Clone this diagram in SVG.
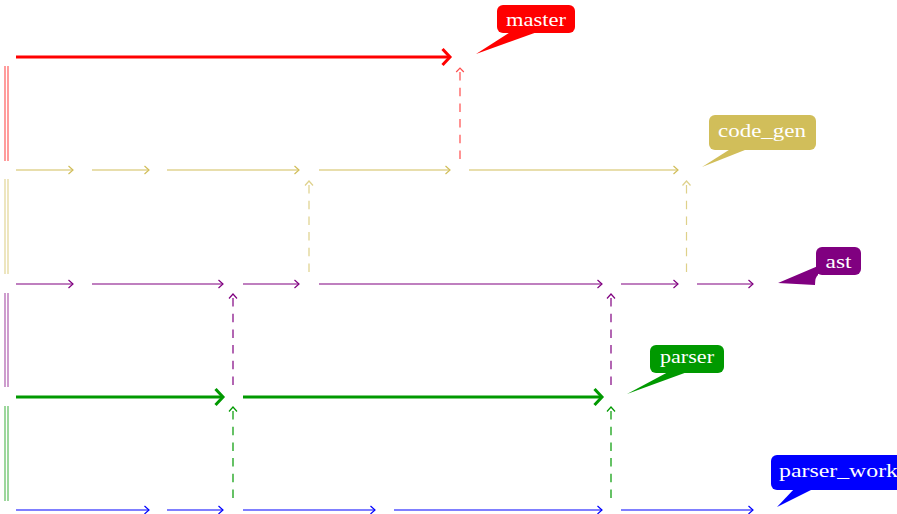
<svg xmlns="http://www.w3.org/2000/svg" width="897" height="514" viewBox="0 0 897 514">
  <style>
    .thin { fill: none; stroke-width: 1.2; }
    .thick { fill: none; stroke-width: 3; }
    .merge { fill: none; stroke-width: 1.2; stroke-dasharray: 8.5 7.2; stroke-dashoffset: 11.7; }
    .soft { opacity: 0.7; }
    .rail { fill: none; stroke-width: 1.1; opacity: 0.7; }
    .label { font-family: "Liberation Serif", "Times New Roman", serif; font-size: 19px; fill: #ffffff; }
    .red { stroke: #ff0000; }
    .yel { stroke: #d1be5a; }
    .pur { stroke: #800080; }
    .grn { stroke: #009900; }
    .blu { stroke: #0000ff; }
  </style>
  <defs>
    <!-- open chevron heads, one per branch colour -->
    <marker id="t-red" markerUnits="userSpaceOnUse" viewBox="-7 -6 8 12" refX="0" refY="0" markerWidth="8" markerHeight="12" orient="auto-start-reverse" overflow="visible"><path d="M-4,-3.8 L0,0 L-4,3.8" fill="none" stroke="#ff0000" stroke-width="1.2"/></marker>
    <marker id="t-yel" markerUnits="userSpaceOnUse" viewBox="-7 -6 8 12" refX="0" refY="0" markerWidth="8" markerHeight="12" orient="auto-start-reverse" overflow="visible"><path d="M-4.5,-4 L0,0 L-4.5,4" fill="none" stroke="#d1be5a" stroke-width="1.2"/></marker>
    <marker id="t-pur" markerUnits="userSpaceOnUse" viewBox="-7 -6 8 12" refX="0" refY="0" markerWidth="8" markerHeight="12" orient="auto-start-reverse" overflow="visible"><path d="M-4.5,-4 L0,0 L-4.5,4" fill="none" stroke="#800080" stroke-width="1.2"/></marker>
    <marker id="t-grn" markerUnits="userSpaceOnUse" viewBox="-7 -6 8 12" refX="0" refY="0" markerWidth="8" markerHeight="12" orient="auto-start-reverse" overflow="visible"><path d="M-4.5,-4 L0,0 L-4.5,4" fill="none" stroke="#009900" stroke-width="1.2"/></marker>
    <marker id="t-blu" markerUnits="userSpaceOnUse" viewBox="-7 -6 8 12" refX="0" refY="0" markerWidth="8" markerHeight="12" orient="auto-start-reverse" overflow="visible"><path d="M-4.5,-4 L0,0 L-4.5,4" fill="none" stroke="#0000ff" stroke-width="1.2"/></marker>
    <marker id="k-red" markerUnits="userSpaceOnUse" viewBox="-10 -10 12 20" refX="0" refY="0" markerWidth="12" markerHeight="20" orient="auto" overflow="visible"><path d="M-7.5,-8 L0,0 L-7.5,8" fill="none" stroke="#ff0000" stroke-width="3"/></marker>
    <marker id="k-grn" markerUnits="userSpaceOnUse" viewBox="-10 -10 12 20" refX="0" refY="0" markerWidth="12" markerHeight="20" orient="auto" overflow="visible"><path d="M-7.5,-8 L0,0 L-7.5,8" fill="none" stroke="#009900" stroke-width="3"/></marker>
  </defs>

  <!-- branch rails on the left edge -->
  <g id="rails">
    <path class="rail red" d="M5,66 V161 M8,66 V161"/>
    <path class="rail yel" d="M5,179 V274 M8,179 V274"/>
    <path class="rail pur" d="M5,293 V387 M8,293 V387"/>
    <path class="rail grn" d="M5,406 V501 M8,406 V501"/>
  </g>

  <!-- commit-to-commit connectors along each branch and merges between branches -->
  <g id="connectors">
    <!-- master -->
    <path class="thick red" d="M16,57 H450" marker-end="url(#k-red)"/>
    <!-- code_gen -->
    <path class="thin yel" d="M16,170 H73" marker-end="url(#t-yel)"/>
    <path class="thin yel" d="M92,170 H149" marker-end="url(#t-yel)"/>
    <path class="thin yel" d="M167,170 H299" marker-end="url(#t-yel)"/>
    <path class="thin yel" d="M319,170 H450" marker-end="url(#t-yel)"/>
    <path class="thin yel" d="M469,170 H678" marker-end="url(#t-yel)"/>
    <!-- ast -->
    <path class="thin pur" d="M16,284 H73" marker-end="url(#t-pur)"/>
    <path class="thin pur" d="M92,284 H223" marker-end="url(#t-pur)"/>
    <path class="thin pur" d="M243,284 H299" marker-end="url(#t-pur)"/>
    <path class="thin pur" d="M319,284 H602" marker-end="url(#t-pur)"/>
    <path class="thin pur" d="M621,284 H678" marker-end="url(#t-pur)"/>
    <path class="thin pur" d="M697,284 H753" marker-end="url(#t-pur)"/>
    <!-- parser -->
    <path class="thick grn" d="M16,397 H223" marker-end="url(#k-grn)"/>
    <path class="thick grn" d="M243,397 H602" marker-end="url(#k-grn)"/>
    <!-- parser_work -->
    <path class="thin blu" d="M16,510 H149" marker-end="url(#t-blu)"/>
    <path class="thin blu" d="M167,510 H223" marker-end="url(#t-blu)"/>
    <path class="thin blu" d="M243,510 H375" marker-end="url(#t-blu)"/>
    <path class="thin blu" d="M394,510 H602" marker-end="url(#t-blu)"/>
    <path class="thin blu" d="M621,510 H753" marker-end="url(#t-blu)"/>
    <!-- merges (dashed, pointing up) -->
    <path class="merge soft red" d="M460,68 V161" marker-start="url(#t-red)"/>
    <path class="merge soft yel" d="M309,181 V274" marker-start="url(#t-yel)"/>
    <path class="merge soft yel" d="M686.5,181 V274" marker-start="url(#t-yel)"/>
    <path class="merge pur" d="M233,294 V387" marker-start="url(#t-pur)"/>
    <path class="merge pur" d="M611,294 V387" marker-start="url(#t-pur)"/>
    <path class="merge grn" d="M233,407 V501" marker-start="url(#t-grn)"/>
    <path class="merge grn" d="M611,407 V501" marker-start="url(#t-grn)"/>
  </g>

  <!-- branch name callouts -->
  <g id="master">
    <rect x="497" y="5" width="78" height="28" rx="6" fill="#ff0000"/>
    <polygon points="476,54 512,31 540,31" fill="#ff0000"/>
    <text class="label" x="536" y="26" text-anchor="middle" textLength="60" lengthAdjust="spacingAndGlyphs">master</text>
  </g>
  <g id="code_gen">
    <rect x="709" y="115" width="107" height="35" rx="6" fill="#d1be5a"/>
    <polygon points="702,167 732,148 750,148" fill="#d1be5a"/>
    <text class="label" x="762" y="137" text-anchor="middle" textLength="88" lengthAdjust="spacingAndGlyphs">code_gen</text>
  </g>
  <g id="ast">
    <rect x="816" y="247" width="45" height="28" rx="6" fill="#800080"/>
    <path d="M778,283 L818,266 L818,275 Q815,277 815,285 Z" fill="#800080"/>
    <text class="label" x="838.5" y="268" text-anchor="middle" textLength="26" lengthAdjust="spacingAndGlyphs">ast</text>
  </g>
  <g id="parser">
    <rect x="650" y="345" width="74" height="28" rx="6" fill="#009900"/>
    <polygon points="627,394 670,371 690,371" fill="#009900"/>
    <text class="label" x="687" y="363" text-anchor="middle" textLength="54" lengthAdjust="spacingAndGlyphs">parser</text>
  </g>
  <g id="parser_work">
    <rect x="771" y="455" width="140" height="35" rx="6" fill="#0000ff"/>
    <polygon points="777,507 795,488 815,488" fill="#0000ff"/>
    <text class="label" x="779" y="477" textLength="119" lengthAdjust="spacingAndGlyphs">parser_work</text>
  </g>
</svg>
